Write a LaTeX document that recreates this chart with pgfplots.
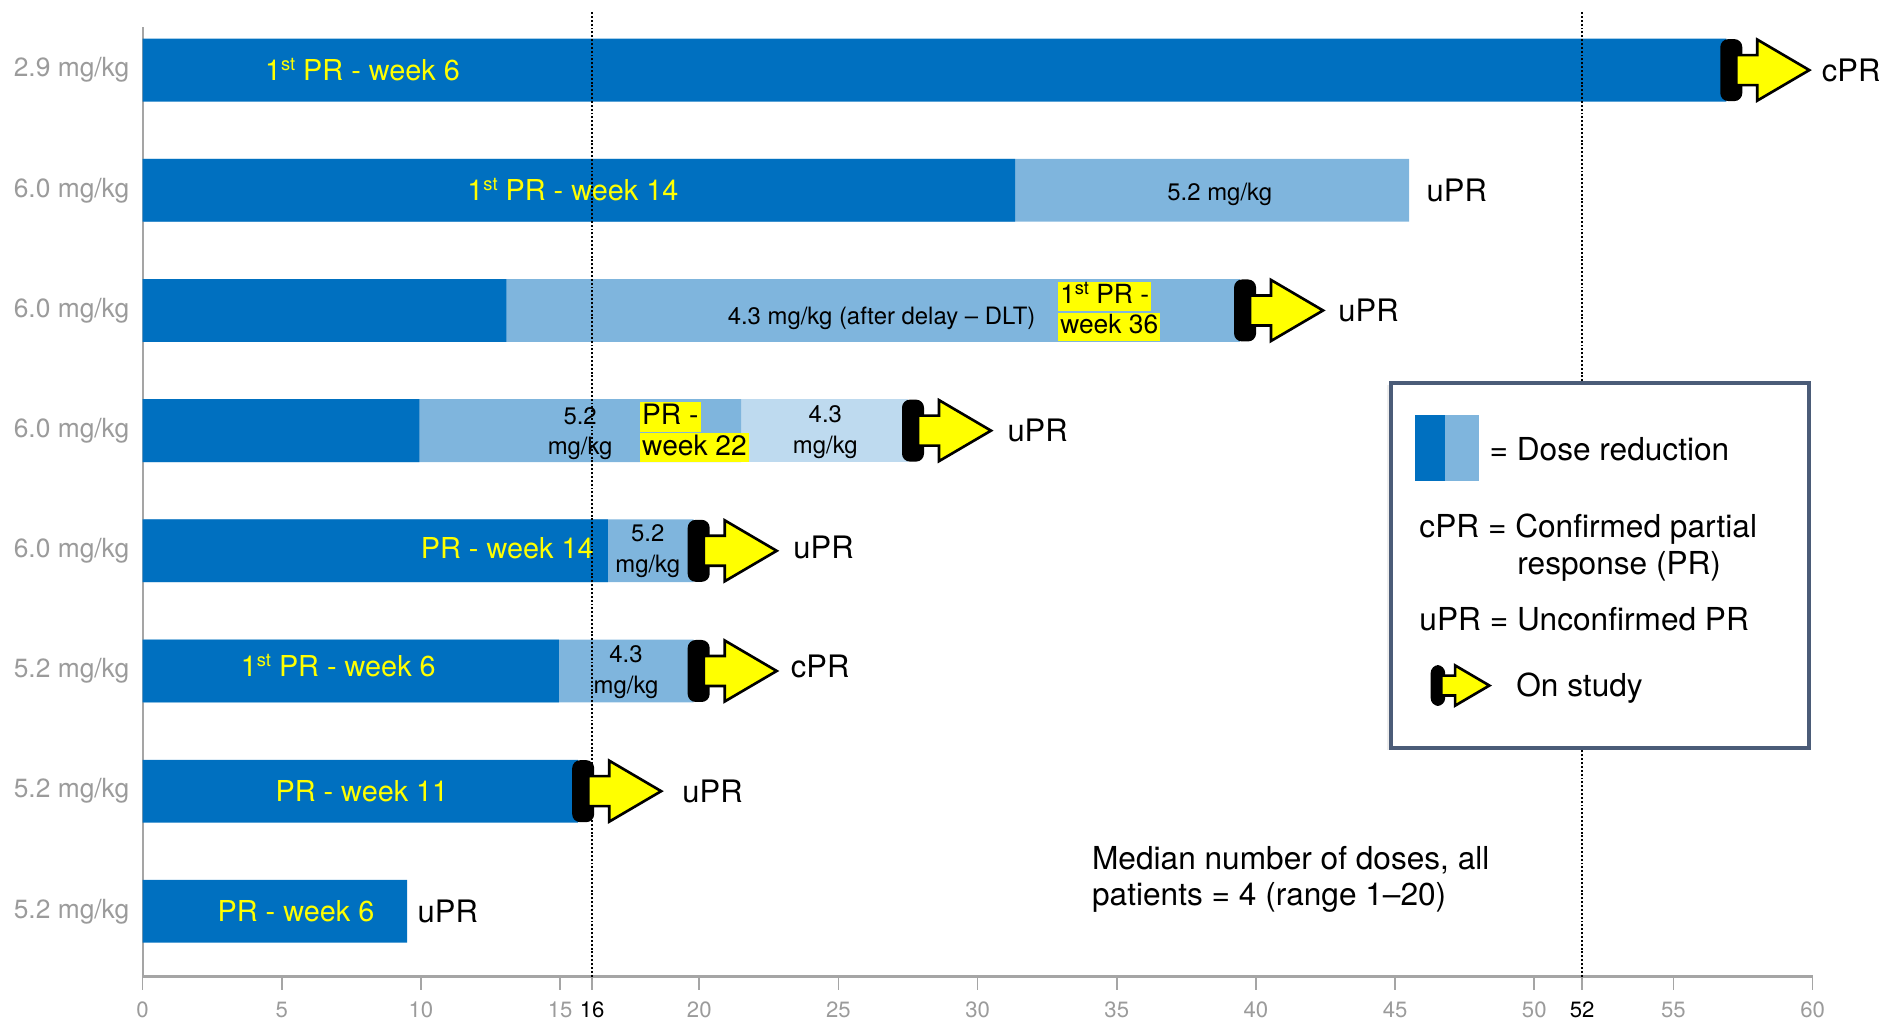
\documentclass[border=0pt]{standalone}
\usepackage{pgfplots}
\pgfplotsset{compat=1.18}
\usepackage{fontspec}
\setmainfont{TeX Gyre Heros}

\definecolor{dblue}{RGB}{0,112,192}
\definecolor{lblue}{RGB}{127,181,221}
\definecolor{llblue}{RGB}{190,218,239}
\definecolor{ylw}{RGB}{255,255,0}
\definecolor{axgrey}{RGB}{165,165,165}
\definecolor{tickgrey}{RGB}{155,155,155}
\definecolor{boxc}{RGB}{75,92,120}

\newcommand{\st}{\raisebox{0.36em}{\fontsize{5.2}{5}\selectfont st}}

\pgfdeclareplotmark{onstudy}{%
  \begin{pgfscope}%
  \pgfsetcornersarced{\pgfpoint{0.08cm}{0.08cm}}%
  \pgfpathrectangle{\pgfpoint{-0.06cm}{-0.31cm}}{\pgfpoint{0.22cm}{0.62cm}}%
  \pgfsetfillcolor{black}%
  \pgfusepath{fill}%
  \end{pgfscope}%
  \begin{pgfscope}%
  \pgfsetlinewidth{0.75pt}%
  \pgfsetstrokecolor{black}\pgfsetfillcolor{ylw}%
  \pgfpathmoveto{\pgfpoint{0.10cm}{0.15cm}}%
  \pgfpathlineto{\pgfpoint{0.31cm}{0.15cm}}%
  \pgfpathlineto{\pgfpoint{0.31cm}{0.305cm}}%
  \pgfpathlineto{\pgfpoint{0.83cm}{0cm}}%
  \pgfpathlineto{\pgfpoint{0.31cm}{-0.305cm}}%
  \pgfpathlineto{\pgfpoint{0.31cm}{-0.15cm}}%
  \pgfpathlineto{\pgfpoint{0.10cm}{-0.15cm}}%
  \pgfpathclose
  \pgfusepath{fill,stroke}%
  \end{pgfscope}%
}

\tikzset{
  ylab/.style={font=\fontsize{8.2}{9.5}\selectfont, text=ylw, inner sep=0pt, text height=5.9pt, text depth=0pt},
  blab/.style={font=\fontsize{6.8}{8.8}\selectfont, text=black, align=center, inner sep=0pt},
  blab1/.style={font=\fontsize{6.8}{8.8}\selectfont, text=black, inner sep=0pt, text height=4.9pt, text depth=0pt},
  rlab/.style={font=\fontsize{8.8}{10}\selectfont, anchor=west, inner sep=0pt, text height=6.3pt, text depth=0pt},
  hl/.style={font=\fontsize{8}{9.5}\selectfont, fill=ylw, anchor=west, inner xsep=0.6pt, inner ysep=0.3pt, text height=6.1pt, text depth=1.8pt},
  hlb/.style={font=\fontsize{7.5}{9}\selectfont, fill=ylw, anchor=west, inner xsep=0.6pt, inner ysep=0.4pt, text height=5.6pt, text depth=1.6pt},
  leg/.style={font=\fontsize{9}{10.5}\selectfont, anchor=west, inner sep=0pt, text height=6.5pt, text depth=0pt},
}

\begin{document}
\begin{tikzpicture}
\begin{axis}[
  name=ax, at={(0,0)}, anchor=south west,
  scale only axis, width=16.70cm, height=9.50cm,
  xmin=0, xmax=60, ymin=0.457, ymax=8.362,
  clip=false,
  axis x line*=bottom, axis y line*=left,
  x axis line style={draw=axgrey, line width=0.8pt, -},
  y axis line style={draw=axgrey, line width=0.6pt, -},
  xtick={0,5,...,60},
  ytick={1,...,8},
  yticklabels={5.2 mg/kg,5.2 mg/kg,5.2 mg/kg,6.0 mg/kg,6.0 mg/kg,6.0 mg/kg,6.0 mg/kg,2.9 mg/kg},
  tick align=outside,
  major tick length=0.13cm,
  xtick style={draw=axgrey, line width=0.5pt},
  ytick style={draw=none},
  /pgf/number format/assume math mode=true,
  xticklabel style={font=\fontsize{6.3}{7}\selectfont, text=tickgrey},
  yticklabel style={font=\fontsize{7.5}{8.5}\selectfont, text=tickgrey, xshift=0.12cm},
  extra x ticks={16.15,51.72},
  extra x tick labels={16,52},
  extra x tick style={tick style={draw=none}, xticklabel style={text=black}},
]
% bars (cumulative ends, drawn longest first)
\addplot[xbar, bar width=0.628cm, fill=llblue, draw=none] coordinates {(27.5,5)};
\addplot[xbar, bar width=0.628cm, fill=lblue, draw=none] coordinates {(45.5,7) (39.43,6) (21.5,5) (19.8,4) (19.8,3)};
\addplot[xbar, bar width=0.628cm, fill=dblue, draw=none] coordinates {(56.9,8) (31.35,7) (13.07,6) (9.94,5) (16.72,4) (14.96,3) (15.65,2) (9.5,1)};

% labels inside bars
\node[ylab] at (axis cs:7.9,8) {1\st{} PR - week 6};
\node[ylab] at (axis cs:15.46,7) {1\st{} PR - week 14};
\node[blab1] at (axis cs:38.7,6.99) {5.2 mg/kg};
\node[blab1] at (axis cs:26.55,5.955) {4.3 mg/kg (after delay -- DLT)};
\node[hlb] at (axis cs:32.87,6.116) {1\st{} PR -};
\node[hlb] at (axis cs:32.87,5.864) {week 36};
\node[blab] at (axis cs:15.72,4.975) {5.2\\mg/kg};
\node[hl] at (axis cs:17.85,5.11) {PR -};
\node[hl] at (axis cs:17.85,4.86) {week 22};
\node[blab] at (axis cs:24.53,4.985) {4.3\\mg/kg};
\node[ylab] at (axis cs:13.1,4.02) {PR - week 14};
\node[blab] at (axis cs:18.15,4.0) {5.2\\mg/kg};
\node[ylab] at (axis cs:7.03,3.04) {1\st{} PR - week 6};
\node[blab] at (axis cs:17.37,2.99) {4.3\\mg/kg};
\node[ylab] at (axis cs:7.88,2) {PR - week 11};
\node[ylab] at (axis cs:5.51,1) {PR - week 6};

% reference lines at weeks 16 and 52
\addplot[black, line width=0.5pt, dash pattern=on 0.55pt off 0.55pt] coordinates {(16.15,0.457) (16.15,8.48)};
\addplot[black, line width=0.5pt, dash pattern=on 0.55pt off 0.55pt] coordinates {(51.72,0.457) (51.72,8.48)};

% on-study arrows
\addplot[only marks, mark=onstudy] coordinates {(56.9,8) (39.43,6) (27.5,5) (19.8,4) (19.8,3) (15.65,2)};

% response labels
\node[rlab] at (axis cs:60.31,8) {cPR};
\node[rlab] at (axis cs:46.11,7) {uPR};
\node[rlab] at (axis cs:42.94,6) {uPR};
\node[rlab] at (axis cs:31.05,5) {uPR};
\node[rlab] at (axis cs:23.36,4.03) {uPR};
\node[rlab] at (axis cs:23.27,3.04) {cPR};
\node[rlab] at (axis cs:19.37,2) {uPR};
\node[rlab] at (axis cs:9.86,1) {uPR};

% median note
\node[leg] at (axis cs:34.09,1.442) {Median number of doses, all};
\node[leg] at (axis cs:34.09,1.14) {patients = 4 (range 1--20)};

% key box
\fill[black!7] (axis cs:44.70,2.34) rectangle (axis cs:44.85,5.38);
\draw[boxc, line width=1.1pt, fill=white] (axis cs:44.85,2.357) rectangle (axis cs:59.88,5.40);
\fill[dblue] (axis cs:45.72,4.578) rectangle (axis cs:46.81,5.13);
\fill[lblue] (axis cs:46.81,4.578) rectangle (axis cs:48.02,5.13);
\node[leg] at (axis cs:48.37,4.849) {= Dose reduction};
\node[leg] at (axis cs:45.85,4.206) {cPR = Confirmed partial};
\node[leg] at (axis cs:49.37,3.894) {response (PR)};
\node[leg] at (axis cs:45.85,3.432) {uPR = Unconfirmed PR};
\node[leg] at (axis cs:49.33,2.879) {On study};
\addplot[only marks, mark=onstudy, mark options={scale=0.66}] coordinates {(46.42,2.879)};
\end{axis}
\pgfresetboundingbox
\path ([xshift=-1.426cm,yshift=-0.474cm]ax.south west) rectangle ([xshift=17.524cm,yshift=9.766cm]ax.south west);
\end{tikzpicture}
\end{document}
